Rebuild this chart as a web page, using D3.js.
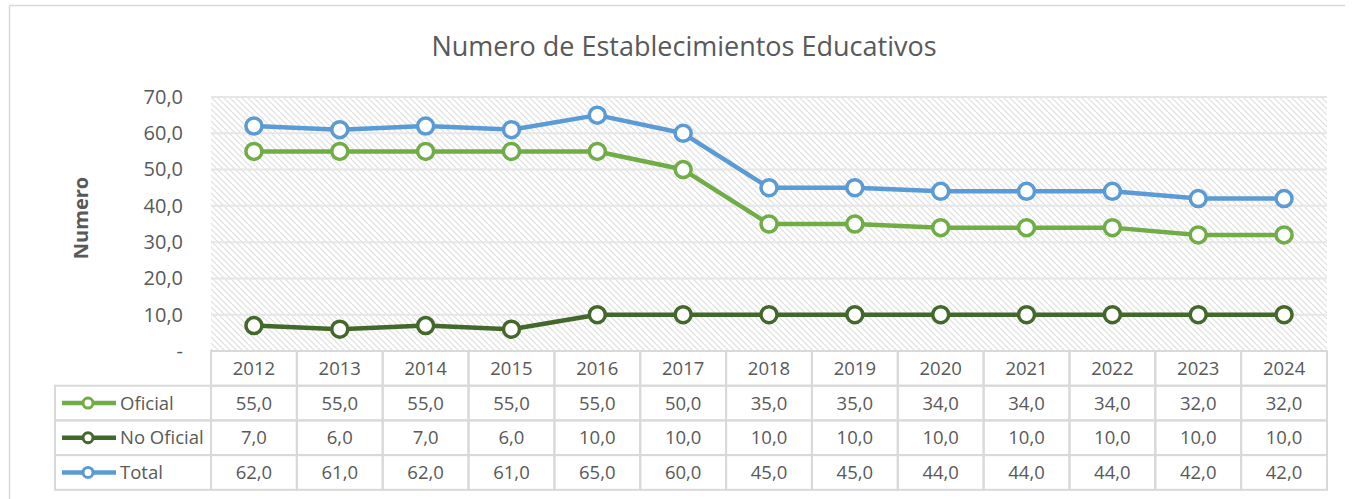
<!DOCTYPE html>
<html><head><meta charset="utf-8">
<script src="https://cdn.jsdelivr.net/npm/d3@7"></script>
<style>body{margin:0;background:#fff;}svg{display:block;}</style>
</head><body>
<svg id="c" width="1354" height="499"></svg>
<script>
const title = "Numero de Establecimientos Educativos";
const yTitle = "Numero";
const years = ["2012","2013","2014","2015","2016","2017","2018","2019","2020","2021","2022","2023","2024"];
const oficial = [55,55,55,55,55,50,35,35,34,34,34,32,32];
const noOficial = [7,6,7,6,10,10,10,10,10,10,10,10,10];
const total = [62,61,62,61,65,60,45,45,44,44,44,42,42];
const yTicks = [0,10,20,30,40,50,60,70];
const seriesNames = ["Oficial","No Oficial","Total"];
const seriesColors = ["#70AD47","#43682B","#5B9BD5"];

const series = [
  {name: seriesNames[0], values: oficial, color: seriesColors[0]},
  {name: seriesNames[1], values: noOficial, color: seriesColors[1]},
  {name: seriesNames[2], values: total, color: seriesColors[2]}
];

const svg = d3.select("#c");
const font = "'Open Sans', sans-serif";
const txt = "#595959";
const L = 211, R = 1327, T = 97, B = 351;
const x = d3.scaleBand().domain(years).range([L, R]);
const y = d3.scaleLinear().domain([0, 70]).range([B, T]);
const fmt = v => v === 0 ? "-" : d3.format(".1f")(v).replace(".", ",");
const fs = 18.5;

// outer frame (top & left)
svg.append("line").attr("x1", 9.5).attr("x2", 1345).attr("y1", 5.5).attr("y2", 5.5).attr("stroke", "#d9d9d9").attr("stroke-width", 1.5);
svg.append("line").attr("x1", 9.5).attr("x2", 9.5).attr("y1", 5.5).attr("y2", 499).attr("stroke", "#d9d9d9").attr("stroke-width", 1.5);

// hatch pattern
const defs = svg.append("defs");
const pat = defs.append("pattern").attr("id", "hatch").attr("patternUnits", "userSpaceOnUse")
  .attr("width", 6).attr("height", 6);
pat.append("rect").attr("width", 6).attr("height", 6).attr("fill", "#fff");
pat.append("path").attr("d", "M-1,-1 L7,7 M-1,5 L1,7 M5,-1 L7,1").attr("stroke", "#dedede").attr("stroke-width", 1.1);

svg.append("rect").attr("x", L).attr("y", T).attr("width", R - L).attr("height", B - T).attr("fill", "url(#hatch)");

// gridlines
svg.append("g").selectAll("line").data(yTicks.filter(d => d > 0)).join("line")
  .attr("x1", L).attr("x2", R).attr("y1", d => y(d)).attr("y2", d => y(d))
  .attr("stroke", "#e6e6e6").attr("stroke-width", 2);

// y axis
const yAxis = d3.axisLeft(y).tickValues(yTicks).tickFormat(fmt).tickSize(0).tickPadding(0);
const ya = svg.append("g").attr("transform", `translate(${183},0)`).call(yAxis);
ya.select(".domain").remove();
ya.selectAll("text").attr("font-family", font).attr("font-size", 20).attr("fill", txt);

// title
svg.append("text").attr("x", 684).attr("y", 56).attr("text-anchor", "middle")
  .attr("font-family", font).attr("font-size", 27).attr("fill", txt).text(title);

// y title
svg.append("text").attr("transform", "translate(88,218) rotate(-90)").attr("text-anchor", "middle")
  .attr("font-family", font).attr("font-size", 20).attr("font-weight", "bold").attr("fill", txt).text(yTitle);

// lines
const line = d3.line().x((d, i) => x(years[i]) + x.bandwidth() / 2).y(d => y(d));
series.forEach(s => {
  svg.append("path").datum(s.values).attr("d", line).attr("fill", "none")
    .attr("stroke", s.color).attr("stroke-width", 4.5).attr("stroke-linejoin", "round");
  svg.append("g").selectAll("circle").data(s.values).join("circle")
    .attr("cx", (d, i) => x(years[i]) + x.bandwidth() / 2).attr("cy", d => y(d)).attr("r", 8)
    .attr("fill", "#fff").attr("stroke", s.color).attr("stroke-width", 3.5);
});

// data table
const rowH = 34.7;
const tb = svg.append("g");
const grid = "#d9d9d9";
tb.selectAll("rect.h").data(years).join("rect")
  .attr("x", d => x(d)).attr("y", B).attr("width", x.bandwidth()).attr("height", rowH)
  .attr("fill", "none").attr("stroke", grid).attr("stroke-width", 2);
tb.selectAll("text.h").data(years).join("text")
  .attr("x", d => x(d) + x.bandwidth() / 2).attr("y", B + rowH / 2 + 6.5).attr("text-anchor", "middle")
  .attr("font-family", font).attr("font-size", fs).attr("fill", txt).text(d => d);

series.forEach((s, r) => {
  const ry = B + rowH * (r + 1);
  tb.append("rect").attr("x", 55).attr("y", ry).attr("width", L - 55).attr("height", rowH)
    .attr("fill", "none").attr("stroke", grid).attr("stroke-width", 2);
  tb.append("line").attr("x1", 62).attr("x2", 116).attr("y1", ry + rowH / 2).attr("y2", ry + rowH / 2)
    .attr("stroke", s.color).attr("stroke-width", 4.5);
  tb.append("circle").attr("cx", 88).attr("cy", ry + rowH / 2).attr("r", 5)
    .attr("fill", "#fff").attr("stroke", s.color).attr("stroke-width", 3);
  tb.append("text").attr("x", 120).attr("y", ry + rowH / 2 + 6.5)
    .attr("font-family", font).attr("font-size", fs).attr("fill", txt).text(s.name);
  years.forEach((yr, i) => {
    tb.append("rect").attr("x", x(yr)).attr("y", ry).attr("width", x.bandwidth()).attr("height", rowH)
      .attr("fill", "none").attr("stroke", grid).attr("stroke-width", 2);
    tb.append("text").attr("x", x(yr) + x.bandwidth() / 2).attr("y", ry + rowH / 2 + 6.5).attr("text-anchor", "middle")
      .attr("font-family", font).attr("font-size", fs).attr("fill", txt).text(fmt(s.values[i]));
  });
});
</script>
</body></html>
